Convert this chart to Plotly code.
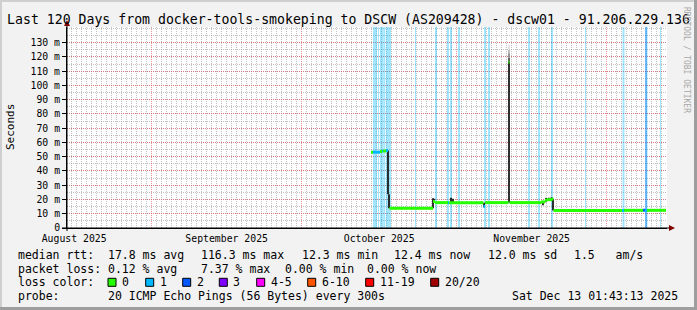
import plotly.graph_objects as go
import pandas as pd

# ---------------- data ----------------
T0 = pd.Timestamp("2025-08-15 01:43:13")   # start of the 120-day window
SPAN_DAYS = 120

loss_labels = ["0", "1", "2", "3", "4-5", "6-10", "11-19", "20/20"]
loss_colors = ["#26ff00", "#00b8ff", "#0059ff", "#7e00ff", "#ff00ff", "#ff5500", "#ff0000", "#a10000"]

# median rtt steps (days since T0), value in ms, loss class index
med_start = [60.8, 61.2, 62.6, 63.0, 63.2, 63.8, 64.5, 73.2, 73.6, 76.2, 76.4, 83.3, 83.6, 88.3, 88.5,
             94.8, 95.6, 96.0, 97.0, 97.3, 111.0, 111.4, 115.2, 115.6, 116.0]
med_end = [61.2, 62.6, 63.0, 63.2, 63.8, 64.2, 73.2, 73.6, 76.2, 76.4, 83.3, 83.6, 88.3, 88.5, 94.8,
           95.6, 96.0, 97.0, 97.3, 111.0, 111.4, 115.2, 115.6, 116.0, 119.8]
med_ms = [53.2, 53.2, 53.6, 54.0, 54.0, 54.4, 13.8, 18.6, 17.8, 17.8, 17.8, 15.0, 17.8, 116.3, 17.8,
          18.3, 19.4, 19.9, 20.3, 12.3, 12.3, 12.4, 12.5, 12.5, 12.4]
med_loss = [0, 1, 0, 1, 0, 1, 0, 0, 0, 1, 0, 1, 0, 0, 0,
            0, 0, 0, 0, 0, 1, 0, 2, 1, 0]

# smoke (spread of individual pings): day, low ms, high ms, shade
smoke_day = [64.2, 64.4, 73.2, 73.4, 76.8, 77.2, 83.4, 88.4, 88.4, 88.4, 88.4, 88.4, 95.2, 95.8, 96.4, 96.9, 97.2]
smoke_lo = [23.6, 13.8, 13.8, 17.5, 17.8, 17.8, 14.5, 17.8, 116.5, 119.5, 122.5, 125.0, 16.0, 18.0, 19.5, 19.5, 12.3]
smoke_hi = [54.4, 23.6, 20.8, 20.5, 21.2, 20.5, 17.8, 116.5, 119.5, 122.5, 125.0, 128.5, 18.3, 21.0, 21.2, 21.5, 20.5]
smoke_shade = ["#1a1a1a", "#1a1a1a", "#1a1a1a", "#1a1a1a", "#1a1a1a", "#1a1a1a", "#1a1a1a", "#1a1a1a",
               "#555555", "#8a8a8a", "#b8b8b8", "#e0e0e0", "#1a1a1a", "#1a1a1a", "#1a1a1a", "#1a1a1a", "#1a1a1a"]

# packet-loss background bars: start day, width (days), loss class
lossbar_start = [61.2, 62.2, 62.6, 62.95, 63.25, 63.8, 69.6, 73.7, 76.05, 76.75, 78.25, 83.45, 84.25,
                 92.25, 94.25, 96.95, 103.6, 111.1, 115.6, 115.75, 118.6]
lossbar_width = [0.8, 0.2, 0.2, 0.2, 0.4, 1.0, 0.2, 0.2, 0.2, 0.2, 0.2, 0.2, 0.2,
                 0.2, 0.2, 0.2, 0.2, 0.4, 0.5, 0.2, 0.2]
lossbar_class = [1, 1, 1, 1, 1, 1, 1, 1, 1, 1, 1, 1, 1,
                 1, 1, 1, 1, 1, 1, 2, 1]

y_ticks = [0, 10, 20, 30, 40, 50, 60, 70, 80, 90, 100, 110, 120, 130]
y_ticktext = ["0"] + [f"{v} m" for v in y_ticks[1:]]
Y_MAX = 141

title = "Last 120 Days from docker-tools-smokeping to DSCW (AS209428) - dscw01 - 91.206.229.136"
row1 = [("median rtt:  17.8 ms avg", 16), ("116.3 ms max", 199), ("12.3 ms min", 299.5),
        ("12.4 ms now", 392), ("12.0 ms sd", 485.5), ("1.5   am/s", 571.5)]
row2 = [("packet loss: 0.12 % avg", 16), ("7.37 % max", 199), ("0.00 % min", 282.5), ("0.00 % now", 365)]
row4_left = "probe:       20 ICMP Echo Pings (56 Bytes) every 300s"
row4_right = "Sat Dec 13 01:43:13 2025"
legend_box_x = [108, 145.7, 182.7, 219.3, 256.7, 307.7, 365.7, 430.7]

# ---------------- helpers ----------------
def t(d):
    return T0 + pd.to_timedelta(d, unit="D")

DAY_MS = 86400000
W, H = 697, 310
L, R, TOP, BOT = 67, 667, 27, 228
def px(p):   # pixel x -> paper x
    return (p - L) / (R - L)
def py(p):   # pixel y -> paper y
    return (BOT - p) / (BOT - TOP)

MONO = "DejaVu Sans Mono"
DASH = "1px,1px"
MINOR_GRID = "rgba(143,143,143,0.55)"
MAJOR_GRID = "rgba(222,80,80,0.6)"
fig = go.Figure()

# loss bars
for cls in sorted(set(lossbar_class)):
    idx = [i for i, c in enumerate(lossbar_class) if c == cls]
    fig.add_trace(go.Bar(
        x=[t(lossbar_start[i] + lossbar_width[i] / 2) for i in idx],
        y=[Y_MAX] * len(idx), base=0,
        width=[lossbar_width[i] * DAY_MS for i in idx],
        marker=dict(color=loss_colors[cls], line_width=0), opacity=0.36 if cls == 1 else 0.3,
        showlegend=False, hoverinfo="skip"))

# smoke
for shade in dict.fromkeys(smoke_shade):
    xs, ys = [], []
    for d, lo, hi, s in zip(smoke_day, smoke_lo, smoke_hi, smoke_shade):
        if s == shade:
            xs += [t(d), t(d), None]
            ys += [lo, hi, None]
    fig.add_trace(go.Scatter(x=xs, y=ys, mode="lines", line=dict(color=shade, width=1.8),
                             showlegend=False, hoverinfo="skip"))

# median line, coloured by loss
for cls in sorted(set(med_loss)):
    xs, ys = [], []
    for a, b, v, c in zip(med_start, med_end, med_ms, med_loss):
        if c == cls:
            xs += [t(a), t(b), None]
            ys += [v, v, None]
    fig.add_trace(go.Scatter(x=xs, y=ys, mode="lines", line=dict(color=loss_colors[cls], width=3),
                             showlegend=False, hoverinfo="skip"))

fig.update_layout(
    width=W, height=H, margin=dict(l=L, r=W - R, t=TOP, b=H - BOT),
    paper_bgcolor="#f2f2f2", plot_bgcolor="#ffffff", barmode="overlay",
    font=dict(family=MONO, color="#000000"),
    title=dict(text=title, x=0.5, xref="container", y=1 - 19 / H, yref="container",
               xanchor="center", yanchor="middle", font=dict(size=13.2, family=MONO)),
    xaxis=dict(type="date", range=[t(0), t(SPAN_DAYS)], dtick="M1", tick0="2025-08-01",
               tickformat="%B %Y", ticklabelmode="period", ticks="", ticklabelstandoff=1,
               showgrid=True, gridcolor=MAJOR_GRID, griddash=DASH, gridwidth=1,
               minor=dict(dtick=DAY_MS, tick0="2025-08-15", showgrid=True,
                          gridcolor=MINOR_GRID, griddash=DASH, ticks=""),
               showline=True, linecolor="#000000", linewidth=1, zeroline=False,
               tickfont=dict(size=9.8, family=MONO)),
    yaxis=dict(range=[0, Y_MAX], tickmode="array", tickvals=y_ticks, ticktext=y_ticktext,
               ticks="outside", ticklen=4, tickcolor="#000000",
               showgrid=True, gridcolor=MAJOR_GRID, griddash=DASH, gridwidth=1,
               minor=dict(dtick=5, showgrid=True, gridcolor=MINOR_GRID,
                          griddash=DASH, ticks=""),
               showline=True, linecolor="#000000", linewidth=1, zeroline=False,
               tickfont=dict(size=9.8, family=MONO)),
)

ann = []
ann.append(dict(text="Seconds", x=px(11), y=py(127), xref="paper", yref="paper", showarrow=False,
                textangle=-90, font=dict(size=11, family=MONO), xanchor="center", yanchor="middle"))
ann.append(dict(text="RRDTOOL / TOBI OETIKER", x=px(687), y=py(60), xref="paper", yref="paper",
                showarrow=False, textangle=90, font=dict(size=8, family=MONO, color="#a8a8a8"),
                xanchor="center", yanchor="middle"))
LEG = 11.5
def txt_ann(s, x0, y0, anchor="left"):
    return dict(text=s.replace(" ", "&nbsp;"), x=px(x0), y=py(y0), xref="paper", yref="paper",
                showarrow=False, xanchor=anchor, yanchor="middle", font=dict(size=LEG, family=MONO))
for s, x0 in row1:
    ann.append(txt_ann(s, x0, 254.5))
for s, x0 in row2:
    ann.append(txt_ann(s, x0, 268.5))
ann.append(txt_ann("loss color:", 16, 282.3))
shapes = []
for lab, col, bx in zip(loss_labels, loss_colors, legend_box_x):
    shapes.append(dict(type="rect", xref="paper", yref="paper", x0=px(bx), x1=px(bx + 8),
                       y0=py(278.3), y1=py(286.3), fillcolor=col, line=dict(color="#000000", width=1)))
    ann.append(txt_ann(lab, bx + 12, 282.3))
ann.append(txt_ann(row4_left, 16, 296.3))
ann.append(txt_ann(row4_right, 680, 296.3, "right"))

# axis extensions and arrows
shapes.append(dict(type="line", xref="paper", yref="paper", x0=px(L), x1=px(L), y0=py(BOT + 3), y1=py(22),
                   line=dict(color="#000000", width=1)))
shapes.append(dict(type="line", xref="paper", yref="paper", x0=px(62), x1=px(670), y0=py(BOT), y1=py(BOT),
                   line=dict(color="#000000", width=1)))
shapes.append(dict(type="path", xref="paper", yref="paper",
                   path=f"M {px(64)} {py(26)} L {px(70)} {py(26)} L {px(67)} {py(20)} Z",
                   fillcolor="#800000", line=dict(width=0)))
shapes.append(dict(type="path", xref="paper", yref="paper",
                   path=f"M {px(669)} {py(225)} L {px(669)} {py(231)} L {px(675)} {py(228)} Z",
                   fillcolor="#800000", line=dict(width=0)))
# 3D frame
shapes.append(dict(type="rect", xref="paper", yref="paper", x0=px(0), x1=px(W), y0=py(0), y1=py(2),
                   fillcolor="#cfcfcf", line=dict(width=0), layer="below"))
shapes.append(dict(type="rect", xref="paper", yref="paper", x0=px(0), x1=px(2), y0=py(0), y1=py(H),
                   fillcolor="#cfcfcf", line=dict(width=0), layer="below"))
shapes.append(dict(type="rect", xref="paper", yref="paper", x0=px(W - 3), x1=px(W), y0=py(0), y1=py(H),
                   fillcolor="#9e9e9e", line=dict(width=0), layer="below"))
shapes.append(dict(type="rect", xref="paper", yref="paper", x0=px(0), x1=px(W), y0=py(H - 3), y1=py(H),
                   fillcolor="#9e9e9e", line=dict(width=0), layer="below"))

fig.update_layout(annotations=ann, shapes=shapes)
fig.write_html("out.html")
